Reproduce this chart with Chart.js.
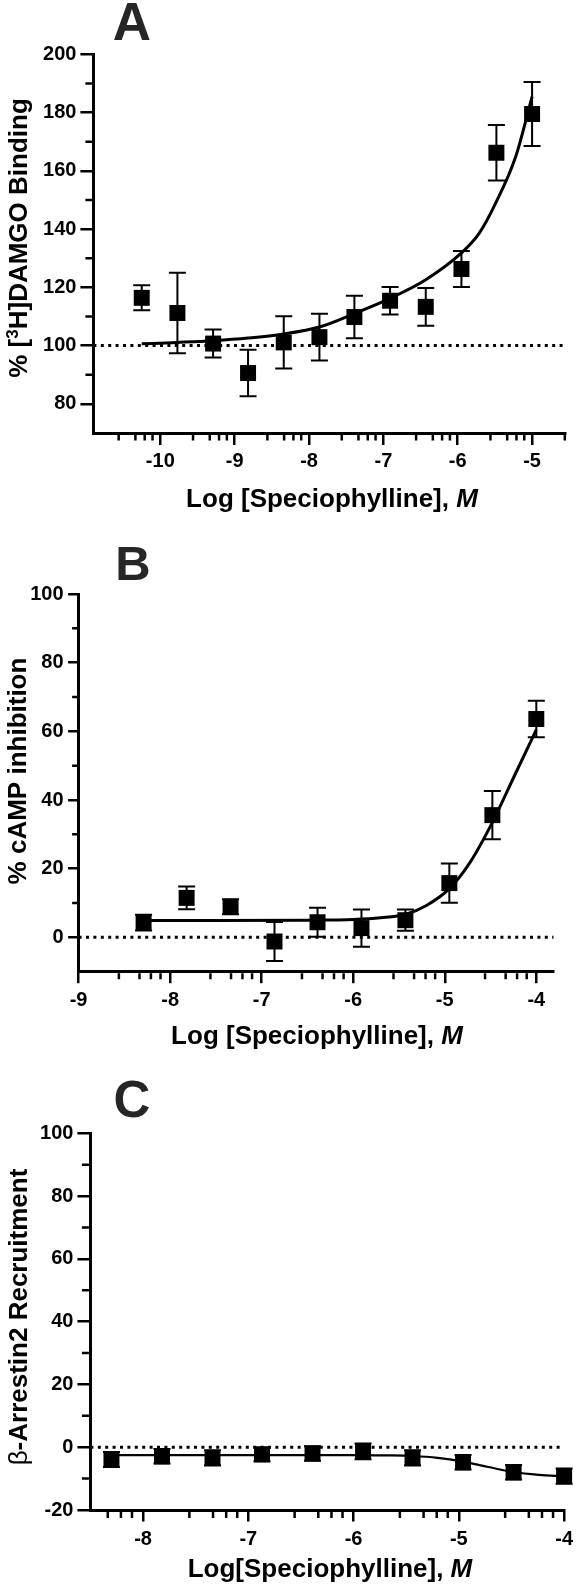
<!DOCTYPE html>
<html><head><meta charset="utf-8">
<script src="https://cdn.jsdelivr.net/npm/chart.js@4.4.0/dist/chart.umd.min.js"></script>
<style>
html,body{margin:0;padding:0;background:#fff;}
#wrap{position:relative;width:579px;height:1586px;overflow:hidden;background:#fff;}
canvas{position:absolute;left:0;}
</style></head><body>
<div id="wrap">
<canvas id="cA" width="579" height="540" style="top:0px"></canvas>
<canvas id="cB" width="579" height="510" style="top:540px"></canvas>
<canvas id="cC" width="579" height="536" style="top:1050px"></canvas>
</div>
<script>
// ---------- Panel A : [3H]DAMGO binding ----------
const aLogConc = [-10.25, -9.77, -9.29, -8.82, -8.34, -7.86, -7.39, -6.91, -6.43, -5.95, -5.48, -5.0];
const aBinding = [116.4, 111.2, 100.7, 90.6, 101.1, 102.9, 109.8, 115.4, 113.3, 126.3, 166.2, 179.5];
const aSem     = [4.3, 13.8, 4.8, 8.0, 9.0, 8.0, 7.3, 4.7, 6.5, 6.2, 9.5, 11.0];
const aFitX    = [-10.25, -9.77, -9.29, -8.82, -8.34, -7.86, -7.39, -6.91, -6.43, -5.95, -5.71, -5.49, -5.22, -5.0];
const aFitY    = [100.6, 101.1, 101.7, 102.6, 104.0, 106.4, 111.0, 116.2, 122.6, 131.8, 138.6, 148.9, 164.9, 185.5];
const aXRange  = [-10.9, -4.56];
const aYRange  = [70, 200];
const aXMajor  = [-10, -9, -8, -7, -6, -5];
const aYMajor  = [80, 100, 120, 140, 160, 180, 200];
const aYMinor  = [90, 110, 130, 150, 170, 190];
const aRefLine = 100;

// ---------- Panel B : cAMP inhibition ----------
const bLogConc    = [-8.29, -7.82, -7.34, -6.86, -6.39, -5.91, -5.43, -4.95, -4.48, -4.0];
const bInhibition = [4.3, 11.5, 8.9, -1.2, 4.4, 2.7, 5.0, 15.8, 35.6, 63.6];
const bSem        = [2.3, 3.3, 2.2, 5.7, 4.2, 5.4, 3.1, 5.7, 7.0, 5.3];
const bFitX       = [-8.29, -7.5, -6.5, -6.0, -5.7, -5.43, -5.2, -4.95, -4.72, -4.48, -4.24, -4.0];
const bFitY       = [4.9, 4.9, 5.0, 5.2, 5.7, 6.7, 9.3, 14.2, 22.0, 33.5, 47.0, 60.5];
const bXRange     = [-9, -3.81];
const bYRange     = [-10, 100];
const bXMajor     = [-9, -8, -7, -6, -5, -4];
const bYMajor     = [0, 20, 40, 60, 80, 100];
const bYMinor     = [10, 30, 50, 70, 90];
const bRefLine    = 0;

// ---------- Panel C : beta-arrestin2 recruitment ----------
const cLogConc  = [-8.30, -7.82, -7.34, -6.87, -6.39, -5.91, -5.44, -4.96, -4.48, -4.0];
const cArrestin = [-3.9, -2.9, -3.4, -2.3, -2.0, -1.3, -3.4, -4.8, -8.0, -9.2];
const cSem      = [2.4, 2.3, 2.4, 2.2, 2.3, 2.5, 2.4, 2.3, 2.3, 2.4];
const cFitX     = [-8.3, -7.0, -6.0, -5.7, -5.44, -5.2, -4.96, -4.72, -4.48, -4.24, -4.0];
const cFitY     = [-2.5, -2.5, -2.5, -2.6, -2.8, -3.4, -4.6, -6.3, -7.9, -8.8, -9.3];
const cXRange   = [-8.5, -4];
const cYRange   = [-20, 100];
const cXMajor   = [-8, -7, -6, -5, -4];
const cYMajor   = [-20, 0, 20, 40, 60, 80, 100];
const cYMinor   = [-10, 10, 30, 50, 70, 90];
const cRefLine  = 0;

// minor x ticks: fractional positions inside each decade
const minorFrac = [0.44, 0.665, 0.79, 0.895];

const FONT = '"Liberation Sans", Arial, Helvetica, sans-serif';

function pts(xs, ys){ return xs.map((x, i) => ({x: x, y: ys[i]})); }

function errorBars(xs, ys, err, st){
  return { id: 'errorBars', beforeDatasetsDraw(chart){
    const ctx = chart.ctx, x = chart.scales.x, y = chart.scales.y;
    ctx.save(); ctx.strokeStyle = '#000'; ctx.lineWidth = st.w; ctx.lineCap = 'butt';
    ctx.beginPath();
    xs.forEach((xv, i) => {
      const px = x.getPixelForValue(xv);
      const t = y.getPixelForValue(ys[i] + err[i]);
      const b = y.getPixelForValue(ys[i] - err[i]);
      ctx.moveTo(px, t); ctx.lineTo(px, b);
      ctx.moveTo(px - st.cap, t); ctx.lineTo(px + st.cap, t);
      ctx.moveTo(px - st.cap, b); ctx.lineTo(px + st.cap, b);
    });
    ctx.stroke(); ctx.restore();
  }};
}

function minorTicks(yMinor, st){
  return { id: 'minorTicks', afterDraw(chart){
    const ctx = chart.ctx, a = chart.chartArea, x = chart.scales.x, y = chart.scales.y;
    ctx.save(); ctx.strokeStyle = '#000'; ctx.lineWidth = st.w; ctx.beginPath();
    for (let d = Math.floor(x.min) - 1; d <= Math.ceil(x.max); d++) {
      for (const f of minorFrac) {
        const v = d + f;
        if (v < x.min - 1e-6 || v > x.max + 1e-6) continue;
        const px = x.getPixelForValue(v);
        ctx.moveTo(px, a.bottom + 1.5); ctx.lineTo(px, a.bottom + 1.5 + st.xLen);
      }
    }
    yMinor.forEach(v => {
      const py = y.getPixelForValue(v);
      ctx.moveTo(a.left - 1.5, py); ctx.lineTo(a.left - 1.5 - st.yLen, py);
    });
    ctx.stroke(); ctx.restore();
  }};
}

function drawParts(ctx, parts, cx, by){
  let total = 0;
  parts.forEach(p => { ctx.font = p.f; p.w = ctx.measureText(p.t).width; total += p.w; });
  let xx = cx - total / 2;
  parts.forEach(p => { ctx.font = p.f; ctx.fillText(p.t, xx, by + (p.dy || 0)); xx += p.w; });
}

function texts(st){
  return { id: 'texts', afterDraw(chart){
    const ctx = chart.ctx;
    ctx.save();
    ctx.textBaseline = 'alphabetic'; ctx.textAlign = 'left';
    ctx.fillStyle = '#262626';
    drawParts(ctx, [{t: st.letter, f: 'bold ' + st.letterSize + 'px ' + FONT}], st.letterX, st.letterY);
    ctx.fillStyle = '#000';
    drawParts(ctx, st.xTitle, st.xTitleX, st.xTitleY);
    ctx.translate(st.yTitleX, st.yTitleY); ctx.rotate(-Math.PI / 2);
    drawParts(ctx, st.yTitle, 0, 0);
    ctx.restore();
  }};
}

function makePanel(id, d, L){
  const tickFont = {family: FONT, size: 20, weight: 'bold'};
  new Chart(document.getElementById(id), {
    type: 'scatter',
    data: { datasets: [
      { data: pts(d.xs, d.ys), pointStyle: 'rect', pointRadius: 11.3, pointBackgroundColor: '#000',
        pointBorderWidth: 0, showLine: false, clip: false },
      { data: pts(d.fitX, d.fitY), showLine: true, borderColor: '#000', borderWidth: L.fitW,
        pointRadius: 0, cubicInterpolationMode: 'monotone', clip: false },
      { data: [{x: d.xRange[0], y: d.ref}, {x: d.xRange[1], y: d.ref}], showLine: true, borderColor: '#000',
        borderWidth: 3, borderDash: [3, 4.4], pointRadius: 0 }
    ]},
    options: {
      responsive: false, animation: false, devicePixelRatio: 1, events: [],
      layout: { padding: { left: 0, right: L.padR, top: L.padT, bottom: 0 } },
      plugins: { legend: { display: false }, tooltip: { enabled: false } },
      scales: {
        x: { type: 'linear', position: 'bottom', min: d.xRange[0], max: d.xRange[1],
          afterBuildTicks: s => { s.ticks = d.xMajor.map(v => ({value: v})); },
          afterFit: s => { s.height = L.xH; },
          ticks: { autoSkip: false, maxRotation: 0, minRotation: 0, padding: L.xPad, color: '#000', font: tickFont,
                   callback: v => String(v) },
          grid: { drawOnChartArea: false, drawTicks: true, tickLength: L.xTick, tickWidth: 2.5, lineWidth: 2.5, tickColor: '#000', color: '#000' },
          border: { display: true, color: '#000', width: 3 }
        },
        y: { type: 'linear', position: 'left', min: d.yRange[0], max: d.yRange[1],
          afterBuildTicks: s => { s.ticks = d.yMajor.map(v => ({value: v})); },
          afterFit: s => { s.width = L.yW; },
          ticks: { autoSkip: false, padding: L.yPad, color: '#000', font: tickFont, callback: v => String(v) },
          grid: { drawOnChartArea: false, drawTicks: true, tickLength: L.yTick, tickWidth: 2.5, lineWidth: 2.5, tickColor: '#000', color: '#000' },
          border: { display: true, color: '#000', width: 3 }
        }
      }
    },
    plugins: [ errorBars(d.xs, d.ys, d.err, {w: 2, cap: 8.5}),
               minorTicks(d.yMinor, {w: 2.5, xLen: L.xMinor, yLen: L.yMinor}),
               texts(L.text) ]
  });
}

const titleFont = 'bold 26px ' + FONT;
const titleItal = 'italic bold 26px ' + FONT;

makePanel('cA',
  { xs: aLogConc, ys: aBinding, err: aSem, fitX: aFitX, fitY: aFitY, xRange: aXRange, yRange: aYRange,
    xMajor: aXMajor, yMajor: aYMajor, yMinor: aYMinor, ref: aRefLine },
  { padR: 579 - 564.8, padT: 54.3, xH: 540 - 433, yW: 93.4, xPad: 4, yPad: 4, xTick: 12, yTick: 13,
    xMinor: 6, yMinor: 6.5, fitW: 3,
    text: { letter: 'A', letterSize: 53, letterX: 132, letterY: 40,
      xTitle: [{t: 'Log [Speciophylline], ', f: titleFont}, {t: 'M', f: titleItal}], xTitleX: 332, xTitleY: 507,
      yTitle: [{t: '% [', f: titleFont}, {t: '3', f: 'bold 17px ' + FONT, dy: -9}, {t: 'H]DAMGO Binding', f: titleFont}],
      yTitleX: 27, yTitleY: 238 } });

makePanel('cB',
  { xs: bLogConc, ys: bInhibition, err: bSem, fitX: bFitX, fitY: bFitY, xRange: bXRange, yRange: bYRange,
    xMajor: bXMajor, yMajor: bYMajor, yMinor: bYMinor, ref: bRefLine },
  { padR: 579 - 553.7, padT: 54, xH: 510 - 431.7, yW: 78.6, xPad: 5, yPad: 4.5, xTick: 11.5, yTick: 10.5,
    xMinor: 6, yMinor: 5, fitW: 3,
    text: { letter: 'B', letterSize: 49, letterX: 133, letterY: 40,
      xTitle: [{t: 'Log [Speciophylline], ', f: titleFont}, {t: 'M', f: titleItal}], xTitleX: 317, xTitleY: 504,
      yTitle: [{t: '% cAMP inhibition', f: titleFont}], yTitleX: 25.5, yTitleY: 231 } });

makePanel('cC',
  { xs: cLogConc, ys: cArrestin, err: cSem, fitX: cFitX, fitY: cFitY, xRange: cXRange, yRange: cYRange,
    xMajor: cXMajor, yMajor: cYMajor, yMinor: cYMinor, ref: cRefLine },
  { padR: 579 - 566.7, padT: 83.3, xH: 536 - 460, yW: 90.4, xPad: 6, yPad: 4, xTick: 11.5, yTick: 13,
    xMinor: 6.5, yMinor: 7, fitW: 2.2,
    text: { letter: 'C', letterSize: 51, letterX: 132, letterY: 67,
      xTitle: [{t: 'Log[Speciophylline], ', f: titleFont}, {t: 'M', f: titleItal}], xTitleX: 330, xTitleY: 527,
      yTitle: [{t: 'β', f: '26px ' + FONT}, {t: '-Arrestin2 Recruitment', f: titleFont}], yTitleX: 27, yTitleY: 267 } });
</script>
</body></html>
